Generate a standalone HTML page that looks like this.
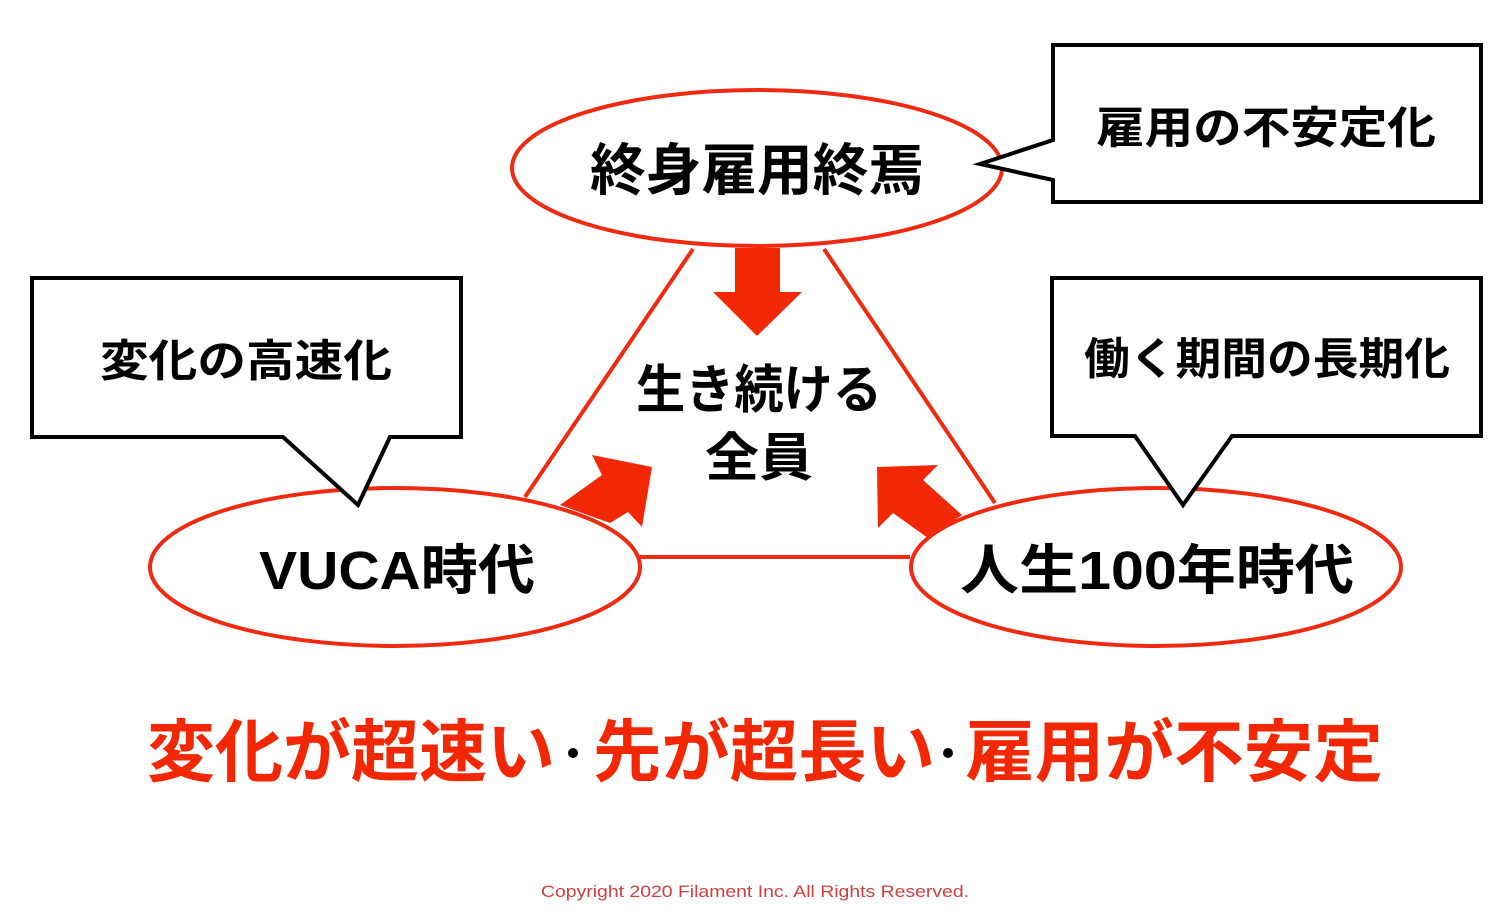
<!DOCTYPE html>
<html><head><meta charset="utf-8"><style>
html,body{margin:0;padding:0;background:#fff;}
svg{display:block;}
text{font-family:"Liberation Sans","Noto Sans CJK JP",sans-serif;font-weight:bold;}
</style></head><body>
<svg width="1508" height="918" viewBox="0 0 1508 918" xmlns="http://www.w3.org/2000/svg">
<!-- triangle lines -->
<g stroke="#f02a10" stroke-width="4" fill="none">
<line x1="693" y1="249" x2="525" y2="497"/>
<line x1="824" y1="249" x2="995" y2="503"/>
<line x1="640" y1="557" x2="910" y2="557"/>
</g>
<!-- arrows -->
<g fill="#f22805">
<polygon points="735,248 780,248 780,292 802,292 757,336 713,292 735,292"/>
<polygon points="560,505 602,475 592,455 652,467 642,527 628,512 610,523"/>
<polygon points="877,467 938,465 923,480 962,515 928,538 893,513 878,528"/>
</g>
<!-- ellipses -->
<g stroke="#f02a10" stroke-width="4" fill="#fff">
<ellipse cx="757" cy="168" rx="245" ry="78"/>
<ellipse cx="395" cy="567" rx="245" ry="79"/>
<ellipse cx="1156" cy="567" rx="245" ry="79"/>
</g>
<!-- callouts -->
<g stroke="#000" stroke-width="4" fill="#fff" stroke-linejoin="miter">
<path d="M1053,45 H1481 V202 H1053 V180 L980,164 L1053,140 Z"/>
<path d="M32,278 H461 V437 H390 L358,505 L283,437 H32 Z"/>
<path d="M1052,278 H1481 V436 H1232 L1183,505 L1135,436 H1052 Z"/>
</g>
<!-- labels -->
<g fill="#000">
<text x="757" y="190" font-size="56" text-anchor="middle" textLength="334" lengthAdjust="spacingAndGlyphs">終身雇用終焉</text>
<text x="759" y="408" font-size="52" text-anchor="middle" textLength="246" lengthAdjust="spacingAndGlyphs">生き続ける</text>
<text x="759" y="476" font-size="52" text-anchor="middle" textLength="108" lengthAdjust="spacingAndGlyphs">全員</text>
<text x="397" y="589" font-size="54" text-anchor="middle" textLength="276" lengthAdjust="spacingAndGlyphs">VUCA時代</text>
<text x="1157" y="589" font-size="54" text-anchor="middle" textLength="394" lengthAdjust="spacingAndGlyphs">人生100年時代</text>
<text x="1266" y="143" font-size="44" text-anchor="middle" textLength="340" lengthAdjust="spacingAndGlyphs">雇用の不安定化</text>
<text x="246" y="376" font-size="44" text-anchor="middle" textLength="292" lengthAdjust="spacingAndGlyphs">変化の高速化</text>
<text x="1267" y="374" font-size="44" text-anchor="middle" textLength="366" lengthAdjust="spacingAndGlyphs">働く期間の長期化</text>
</g>
<!-- headline -->
<g font-size="68" fill="#f22805">
<text x="147" y="776" textLength="408" lengthAdjust="spacingAndGlyphs">変化が超速い</text>
<text x="593" y="776" textLength="342" lengthAdjust="spacingAndGlyphs">先が超長い</text>
<text x="965" y="776" textLength="418" lengthAdjust="spacingAndGlyphs">雇用が不安定</text>
</g>
<circle cx="573" cy="753" r="5" fill="#000"/>
<circle cx="948" cy="753" r="5" fill="#000"/>
<text x="755" y="897" font-size="17" fill="#d04040" text-anchor="middle" style="font-weight:normal" textLength="428" lengthAdjust="spacingAndGlyphs">Copyright 2020 Filament Inc. All Rights Reserved.</text>
</svg>
</body></html>
